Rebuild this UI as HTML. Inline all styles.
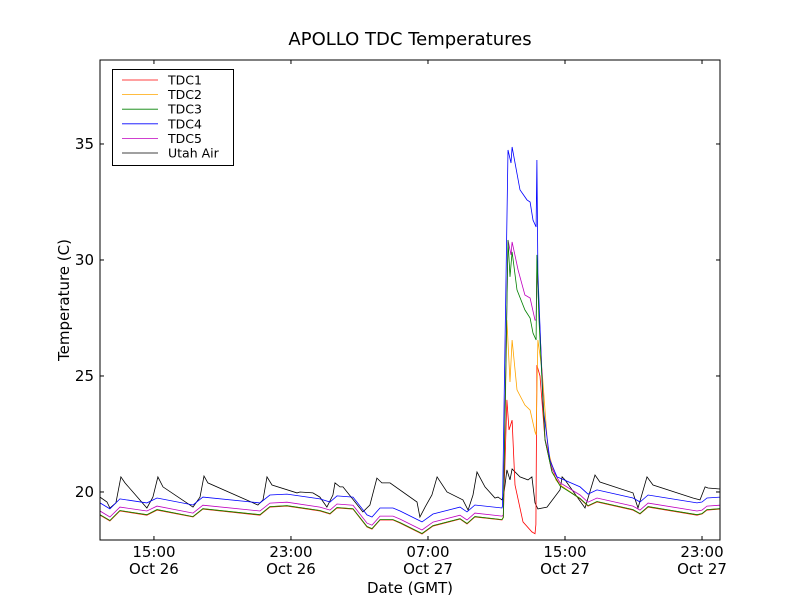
<!DOCTYPE html>
<html><head><meta charset="utf-8"><style>
body{margin:0;background:#fff;}
svg{display:block;font-family:"DejaVu Sans","Liberation Sans",sans-serif;}
</style></head><body>
<svg id="chart" width="800" height="600">
<rect x="0" y="0" width="800" height="600" fill="#fff"/>
<text x="410" y="45" font-size="18" text-anchor="middle">APOLLO TDC Temperatures</text>
<text x="410" y="593" font-size="15" text-anchor="middle">Date (GMT)</text>
<text x="0" y="0" font-size="15" text-anchor="middle" transform="translate(69,300) rotate(-90)">Temperature (C)</text>
<g id="series"></g>
<g id="axes"></g>
<rect x="100" y="60" width="620" height="480" fill="none" stroke="#000" stroke-width="1"/>
<g id="legend"></g>
</svg>
<script>
// hours since 12:00 Oct 26 GMT, temperatures in C
const xTickHours = [3, 11, 19, 27, 35];
const xTickTimes = ["15:00", "23:00", "07:00", "15:00", "23:00"];
const xTickDays = ["Oct 26", "Oct 26", "Oct 27", "Oct 27", "Oct 27"];
const yTicks = [20, 25, 30, 35];
const seriesNames = ["TDC1", "TDC2", "TDC3", "TDC4", "TDC5", "Utah Air"];
const seriesColors = ["red", "orange", "green", "blue", "#bf00bf", "black"];

const tdc1 = [[-0.15,19.0],[0.43,18.75],[1.01,19.18],[2.59,19.0],[3.18,19.22],[5.28,18.92],[5.86,19.26],[9.19,19.0],[9.77,19.35],[10.77,19.39],[12.69,19.18],[13.28,19.05],[13.69,19.31],[14.62,19.26],[15.44,18.49],[15.73,18.4],[16.2,18.79],[16.96,18.79],[17.37,18.66],[18.65,18.19],[19.29,18.53],[20.87,18.83],[21.28,18.62],[21.74,18.92],[23.32,18.79],[23.4,18.9],[23.61,23.97],[23.73,22.67],[23.91,23.1],[24.08,20.3],[24.55,18.71],[25.07,18.28],[25.25,18.2],[25.3,18.6],[25.36,25.47],[25.54,25.0],[25.83,22.24],[26.24,20.86],[26.71,20.3],[27.88,19.7],[28.34,19.39],[28.87,19.57],[30.97,19.22],[31.38,19.05],[31.85,19.35],[34.71,19.0],[35.0,19.05],[35.29,19.22],[36.05,19.26]];
const tdc2 = [[-0.15,19.02],[0.43,18.77],[1.01,19.2],[2.59,19.02],[3.18,19.24],[5.28,18.94],[5.86,19.28],[9.19,19.02],[9.77,19.37],[10.77,19.41],[12.69,19.2],[13.28,19.07],[13.69,19.33],[14.62,19.28],[15.44,18.51],[15.73,18.42],[16.2,18.81],[16.96,18.81],[17.37,18.68],[18.65,18.21],[19.29,18.55],[20.87,18.85],[21.28,18.64],[21.74,18.94],[23.32,18.81],[23.4,18.9],[23.61,27.41],[23.79,24.74],[23.91,26.55],[24.2,24.4],[24.66,23.75],[24.96,23.53],[25.25,22.59],[25.31,22.46],[25.42,26.55],[25.66,25.26],[26.01,21.81],[26.47,20.52],[26.71,20.3],[27.88,19.72],[28.34,19.41],[28.87,19.59],[30.97,19.24],[31.38,19.07],[31.85,19.37],[34.71,19.02],[35.0,19.07],[35.29,19.24],[36.05,19.28]];
const tdc3 = [[-0.15,19.02],[0.43,18.77],[1.01,19.2],[2.59,19.02],[3.18,19.24],[5.28,18.94],[5.86,19.28],[9.19,19.02],[9.77,19.37],[10.77,19.41],[12.69,19.2],[13.28,19.07],[13.69,19.33],[14.62,19.28],[15.44,18.51],[15.73,18.42],[16.2,18.81],[16.96,18.81],[17.37,18.68],[18.65,18.21],[19.29,18.55],[20.87,18.85],[21.28,18.64],[21.74,18.94],[23.32,18.81],[23.4,18.9],[23.67,30.86],[23.79,29.27],[23.91,30.35],[24.2,28.71],[24.66,27.85],[24.96,27.5],[25.13,26.85],[25.31,26.55],[25.36,30.22],[25.48,27.41],[25.83,22.24],[26.24,20.86],[26.71,20.26],[27.88,19.72],[28.34,19.41],[28.87,19.59],[30.97,19.24],[31.38,19.07],[31.85,19.37],[34.71,19.02],[35.0,19.07],[35.29,19.24],[36.05,19.28]];
const tdc4 = [[-0.15,19.53],[0.43,19.27],[1.01,19.7],[2.59,19.53],[3.18,19.74],[5.28,19.44],[5.86,19.78],[9.19,19.53],[9.77,19.87],[10.77,19.91],[12.69,19.7],[13.28,19.57],[13.69,19.83],[14.62,19.78],[15.44,19.01],[15.73,18.92],[16.2,19.31],[16.96,19.31],[17.37,19.18],[18.65,18.71],[19.29,19.05],[20.87,19.35],[21.28,19.14],[21.74,19.44],[23.32,19.31],[23.35,19.4],[23.67,34.74],[23.85,34.18],[23.91,34.87],[24.37,33.02],[24.78,32.59],[24.96,32.5],[25.13,31.72],[25.31,31.42],[25.36,34.31],[25.42,29.44],[25.72,23.66],[26.12,21.38],[26.53,20.65],[26.71,20.6],[27.88,20.22],[28.34,19.91],[28.87,20.09],[30.97,19.74],[31.38,19.57],[31.85,19.87],[34.71,19.53],[35.0,19.57],[35.29,19.74],[36.05,19.78]];
const tdc5 = [[-0.15,19.18],[0.43,18.92],[1.01,19.35],[2.59,19.18],[3.18,19.39],[5.28,19.09],[5.86,19.43],[9.19,19.18],[9.77,19.52],[10.77,19.56],[12.69,19.35],[13.28,19.22],[13.69,19.48],[14.62,19.43],[15.44,18.66],[15.73,18.57],[16.2,18.96],[16.96,18.96],[17.37,18.83],[18.65,18.36],[19.29,18.7],[20.87,19.0],[21.28,18.79],[21.74,19.09],[23.32,18.96],[23.4,19.0],[23.67,30.86],[23.85,30.22],[23.91,30.78],[24.26,29.57],[24.66,28.49],[24.96,28.36],[25.25,27.41],[25.31,27.41],[25.36,29.57],[25.54,26.98],[25.83,22.3],[26.24,21.0],[26.71,20.4],[27.88,19.87],[28.34,19.56],[28.87,19.74],[30.97,19.39],[31.38,19.22],[31.85,19.52],[34.71,19.18],[35.0,19.22],[35.29,19.39],[36.05,19.43]];
const utahAir = [[-0.15,19.78],[0.26,19.57],[0.43,19.31],[0.78,19.53],[1.07,20.65],[1.31,20.39],[2.59,19.31],[2.94,19.78],[3.23,20.65],[3.53,20.22],[5.28,19.35],[5.69,19.78],[5.92,20.69],[6.15,20.39],[9.07,19.44],[9.37,19.66],[9.6,20.65],[9.89,20.3],[11.35,19.96],[11.53,20.0],[12.28,19.96],[12.69,19.78],[13.1,19.35],[13.45,19.87],[13.57,20.39],[13.86,20.22],[14.04,20.22],[15.2,19.14],[15.61,19.44],[16.02,20.6],[16.31,20.39],[16.78,20.39],[18.36,19.57],[18.53,18.92],[18.83,19.35],[19.23,19.87],[19.53,20.65],[20.11,20.0],[21.04,19.66],[21.34,19.22],[21.63,19.87],[21.86,20.86],[22.33,20.22],[22.91,19.74],[23.09,19.78],[23.32,19.66],[23.44,19.96],[23.61,20.95],[23.79,20.52],[23.91,20.99],[24.37,20.65],[24.84,20.52],[25.07,20.65],[25.25,19.53],[25.42,19.27],[25.95,19.35],[26.71,20.09],[26.83,20.65],[27.0,20.52],[28.17,19.31],[28.75,20.73],[29.04,20.43],[30.97,19.96],[31.26,19.31],[31.79,20.65],[32.14,20.3],[34.47,19.74],[34.88,19.66],[35.18,20.22],[35.35,20.17],[36.05,20.13]];

const X0 = 100, X1 = 720, Y0 = 60, Y1 = 540;
const H_MIN = -0.15, H_MAX = 36.05, T_MIN = 17.93, T_MAX = 38.62;
function xScale(h){ return X0 + (h - H_MIN) / (H_MAX - H_MIN) * (X1 - X0); }
function yScale(t){ return Y1 - (t - T_MIN) / (T_MAX - T_MIN) * (Y1 - Y0); }
const NS = "http://www.w3.org/2000/svg";
function mk(tag, attrs){ const e = document.createElementNS(NS, tag); for (const k in attrs) e.setAttribute(k, attrs[k]); return e; }

const allSeries = [tdc1, tdc2, tdc3, tdc4, tdc5, utahAir];
const sg = document.getElementById('series');
const clip = mk('clipPath', {id:'pc'});
clip.appendChild(mk('rect', {x:X0, y:Y0, width:X1-X0, height:Y1-Y0}));
sg.appendChild(clip);
sg.setAttribute('clip-path', 'url(#pc)');
const drawOrder = [5, 0, 1, 4, 3, 2];
drawOrder.forEach(i => {
  const d = allSeries[i].map((p, j) => (j ? 'L' : 'M') + xScale(p[0]).toFixed(1) + ' ' + yScale(p[1]).toFixed(1)).join(' ');
  const path = mk('path', {d:d, fill:'none', stroke:seriesColors[i], 'stroke-width':'0.8'});
  
  
  sg.appendChild(path);
});

const ax = document.getElementById('axes');
xTickHours.forEach((h, i) => {
  const x = xScale(h);
  const t1 = mk('line', {x1:x, x2:x, y1:Y1, y2:Y1-4, stroke:'#000'});
  
  
  ax.appendChild(t1);
  const t2 = mk('line', {x1:x, x2:x, y1:Y0, y2:Y0+4, stroke:'#000'});
  
  
  ax.appendChild(t2);
  const l1 = mk('text', {x:x, y:557, 'font-size':'15', 'text-anchor':'middle'});
  l1.textContent = xTickTimes[i];
  
  
  ax.appendChild(l1);
  const l2 = mk('text', {x:x, y:574, 'font-size':'15', 'text-anchor':'middle'});
  l2.textContent = xTickDays[i];
  
  
  ax.appendChild(l2);
});
yTicks.forEach(v => {
  const y = yScale(v);
  const t1 = mk('line', {x1:X0, x2:X0+4, y1:y, y2:y, stroke:'#000'});
  
  
  ax.appendChild(t1);
  const t2 = mk('line', {x1:X1, x2:X1-4, y1:y, y2:y, stroke:'#000'});
  
  
  ax.appendChild(t2);
  const l = mk('text', {x:94, y:y+5, 'font-size':'15', 'text-anchor':'end'});
  l.textContent = v;
  
  
  ax.appendChild(l);
});

const lg = document.getElementById('legend');
const box = mk('rect', {x:112.5, y:69.5, width:121, height:96, fill:'#fff', stroke:'#000'});


lg.appendChild(box);
seriesNames.forEach((n, i) => {
  const y = 80 + i * 14.6;
  const g = mk('g', {});
  
  
  g.appendChild(mk('line', {x1:122, x2:158, y1:y, y2:y, stroke:seriesColors[i], 'stroke-width':'0.8'}));
  const t = mk('text', {x:168, y:y+4.5, 'font-size':'12.5'});
  t.textContent = n;
  g.appendChild(t);
  lg.appendChild(g);
});
</script>
</body></html>
